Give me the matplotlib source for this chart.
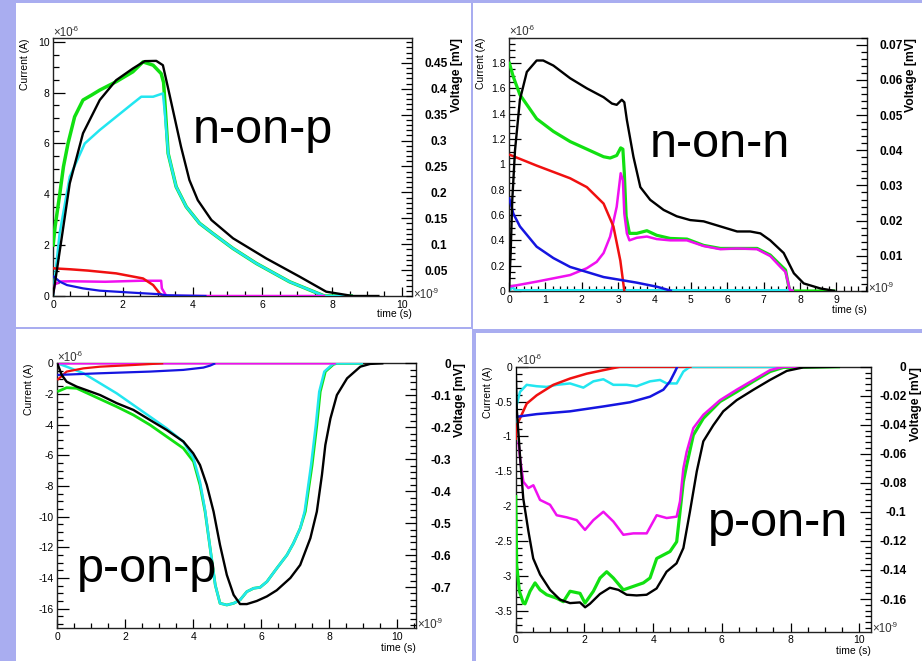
import matplotlib
matplotlib.use("Agg")
import matplotlib.pyplot as plt
from matplotlib.patches import Rectangle
from matplotlib.ticker import MultipleLocator

plt.rcParams['font.family'] = ['Liberation Sans', 'DejaVu Sans']
plt.rcParams['axes.unicode_minus'] = False

W, H = 922, 661
LAVENDER = '#a9adf0'
COLORS = {'green': '#11e011', 'cyan': '#22e6f0', 'magenta': '#f010f0',
          'red': '#f01010', 'blue': '#1515e0', 'black': '#000000'}

# ---------------- n-on-p ----------------
nop_green_t = [0, 0.06, 0.19, 0.3, 0.43, 0.62, 0.86, 1.1, 1.34, 1.81, 2.29, 2.58, 2.87, 3.1, 3.17,
               3.3, 3.53, 3.82, 4.2, 4.58, 5.16, 5.83, 6.78, 7.78, 8.6]
nop_green_i = [1.94, 2.73, 3.97, 5.09, 6.0, 7.05, 7.71, 7.9, 8.1, 8.43, 8.82, 9.21, 9.08, 8.75, 8.4,
               5.61, 4.3, 3.51, 2.86, 2.46, 1.87, 1.28, 0.56, 0.0, 0.0]
nop_cyan_t = [0, 0.19, 0.48, 0.91, 1.34, 1.81, 2.29, 2.53, 2.87, 3.15, 3.2, 3.3, 3.53, 3.82, 4.2,
              4.58, 5.16, 5.83, 6.78, 7.78, 8.6]
nop_cyan_i = [0.0, 2.46, 4.69, 6.0, 6.53, 7.05, 7.58, 7.84, 7.84, 7.97, 7.3, 5.61, 4.3, 3.51, 2.86,
              2.46, 1.87, 1.28, 0.56, 0.0, 0.0]
nop_magenta_t = [0, 0.05, 0.2, 0.5, 1.0, 1.5, 2.0, 2.5, 3.1, 3.12, 3.25, 7.8]
nop_magenta_i = [0.1, 0.45, 0.57, 0.58, 0.57, 0.56, 0.58, 0.6, 0.6, 0.3, 0.0, 0.0]
nop_red_t = [0, 0.5, 1.0, 1.81, 2.58, 2.87, 3.06, 3.15, 3.25]
nop_red_i = [1.09, 1.05, 1.0, 0.89, 0.69, 0.43, 0.1, 0.0, 0.0]
nop_blue_t = [0, 0.2, 0.4, 0.86, 1.34, 2.29, 3.06, 3.25, 4.4]
nop_blue_i = [0.79, 0.56, 0.43, 0.3, 0.21, 0.13, 0.07, 0.03, 0.0]
nop_black_t = [0, 0.24, 0.48, 0.86, 1.34, 1.81, 2.29, 2.63, 2.96, 3.15, 3.29, 3.48, 3.67, 3.91, 4.15,
               4.54, 5.16, 6.11, 7.07, 7.83, 8.59, 9.36]
nop_black_i = [0, 2.2, 4.43, 6.4, 7.71, 8.49, 8.95, 9.24, 9.25, 9.08, 8.23, 7.05, 5.87, 4.56, 3.77,
               2.99, 2.27, 1.48, 0.76, 0.17, 0.0, 0.0]

# ---------------- n-on-n ----------------
non_black_t = [0, 0.046, 0.09, 0.165, 0.3, 0.49, 0.76, 0.94, 1.22, 1.68, 2.14, 2.6, 2.83, 2.96, 3.1,
               3.17, 3.24, 3.42, 3.61, 3.88, 4.25, 4.61, 4.98, 5.35, 5.81, 6.27, 6.63, 6.91, 7.18,
               7.55, 7.83, 8.1, 8.56, 8.97]
non_black_i = [0, 0.3, 0.72, 1.11, 1.51, 1.73, 1.82, 1.82, 1.78, 1.68, 1.6, 1.53, 1.48, 1.47, 1.51,
               1.49, 1.35, 1.06, 0.82, 0.72, 0.64, 0.59, 0.56, 0.55, 0.51, 0.47, 0.47, 0.455, 0.4,
               0.3, 0.14, 0.06, 0.02, 0.0]
non_green_t = [0, 0.12, 0.3, 0.76, 1.22, 1.68, 2.14, 2.6, 2.78, 2.96, 3.07, 3.13, 3.17, 3.22, 3.31,
               3.51, 3.79, 4.06, 4.43, 4.89, 5.35, 5.81, 6.27, 6.82, 7.18, 7.46, 7.6, 7.69, 7.73, 8.97]
non_green_i = [1.81, 1.69, 1.55, 1.36, 1.26, 1.18, 1.12, 1.06, 1.05, 1.07, 1.13, 1.12, 0.93, 0.59,
               0.455, 0.455, 0.476, 0.44, 0.415, 0.41, 0.36, 0.336, 0.336, 0.336, 0.284, 0.205,
               0.166, 0.034, 0.0, 0.0]
non_magenta_t = [0, 0.76, 1.68, 2.14, 2.41, 2.6, 2.78, 2.96, 3.07, 3.13, 3.17, 3.24, 3.31, 3.51, 3.79,
                 4.06, 4.43, 4.89, 5.35, 5.81, 6.27, 6.82, 7.18, 7.46, 7.6, 7.72, 7.83]
non_magenta_i = [0.034, 0.074, 0.126, 0.18, 0.23, 0.3, 0.43, 0.665, 0.93, 0.875, 0.61, 0.455, 0.4,
                 0.42, 0.43, 0.41, 0.4, 0.4, 0.355, 0.33, 0.336, 0.33, 0.276, 0.19, 0.15, 0.008, 0.0]
non_red_t = [0, 0.76, 1.68, 2.14, 2.6, 2.87, 3.06, 3.17]
non_red_i = [1.078, 0.99, 0.89, 0.82, 0.69, 0.51, 0.24, 0.0]
non_blue_t = [0, 0.12, 0.3, 0.76, 1.22, 1.68, 2.6, 3.51, 4.06, 4.48]
non_blue_i = [0.74, 0.61, 0.51, 0.35, 0.26, 0.19, 0.11, 0.066, 0.034, 0.0]
non_cyan_t = [0, 0.08, 0.2, 7.8]
non_cyan_i = [0.0, 0.03, 0.005, 0.005]

# ---------------- p-on-p ----------------
pop_black_t = [0, 0.13, 0.275, 0.57, 1.26, 1.75, 2.24, 2.73, 3.22, 3.71, 4.0, 4.2, 4.4, 4.6, 4.79,
               4.99, 5.19, 5.38, 5.58, 5.87, 6.17, 6.46, 6.86, 7.15, 7.45, 7.64, 7.79, 7.89, 8.04,
               8.23, 8.53, 8.92, 9.21, 9.6]
pop_black_i = [0, -0.76, -1.2, -1.52, -2.07, -2.6, -3.04, -3.7, -4.35, -5.1, -5.87, -6.63, -7.93,
               -9.67, -11.85, -13.8, -15.1, -15.7, -15.7, -15.5, -15.2, -14.8, -14.0, -13.15, -11.4,
               -9.67, -7.28, -5.33, -3.6, -2.07, -0.98, -0.22, -0.04, 0.0]
pop_green_t = [0, 0.275, 0.57, 1.257, 1.749, 2.24, 2.73, 3.22, 3.71, 4.01, 4.2, 4.35, 4.5, 4.65, 4.79,
               4.99, 5.19, 5.38, 5.58, 5.78, 5.97, 6.17, 6.46, 6.76, 6.95, 7.15, 7.3, 7.5, 7.64, 7.74,
               7.89, 8.13, 8.23, 9.0]
pop_green_i = [-1.85, -1.59, -1.63, -2.33, -2.83, -3.37, -4.02, -4.78, -5.54, -6.41, -7.93, -9.67,
               -12.07, -14.46, -15.65, -15.76, -15.65, -15.43, -14.89, -14.67, -14.61, -14.24,
               -13.37, -12.5, -11.74, -10.76, -9.67, -6.63, -4.02, -1.85, -0.54, -0.07, 0.0, 0.0]
pop_cyan_t = [0, 0.275, 0.77, 1.257, 1.749, 2.24, 2.73, 3.22, 3.71, 4.01, 4.2, 4.35, 4.5, 4.65, 4.79,
              4.99, 5.19, 5.38, 5.58, 5.78, 5.97, 6.17, 6.46, 6.76, 6.95, 7.15, 7.28, 7.47, 7.61, 7.71,
              7.86, 8.1, 8.2, 9.0]
pop_cyan_i = [0.0, -0.22, -0.65, -1.3, -1.96, -2.72, -3.48, -4.24, -5.11, -6.2, -7.72, -9.57,
              -12.07, -14.46, -15.65, -15.76, -15.65, -15.43, -14.89, -14.67, -14.61, -14.24,
              -13.37, -12.5, -11.74, -10.76, -9.67, -6.63, -4.02, -1.85, -0.54, -0.07, 0.0, 0.0]
pop_blue_t = [0, 1.26, 2.73, 3.71, 4.3, 4.5, 4.65]
pop_blue_i = [-0.76, -0.65, -0.54, -0.43, -0.28, -0.15, 0.0]
pop_red_t = [0, 0.275, 0.77, 1.26, 2.24, 3.12]
pop_red_i = [-1.09, -0.54, -0.33, -0.22, -0.11, 0.0]
pop_magenta_t = [0, 0.05, 8.2]
pop_magenta_i = [-0.1, 0.0, 0.0]

# ---------------- p-on-n ----------------
pon_black_t = [0, 0.03, 0.13, 0.22, 0.37, 0.51, 0.71, 1.0, 1.29, 1.58, 1.87, 2.02, 2.16, 2.45, 2.74,
               2.99, 3.23, 3.52, 3.81, 4.1, 4.39, 4.68, 4.88, 5.07, 5.27, 5.46, 5.75, 6.04, 6.43,
               6.92, 7.4, 7.89, 8.37, 9.44]
pon_black_i = [0, -0.6, -1.31, -1.89, -2.36, -2.75, -2.98, -3.2, -3.34, -3.39, -3.38, -3.45, -3.4,
               -3.26, -3.17, -3.2, -3.27, -3.28, -3.27, -3.18, -2.94, -2.82, -2.6, -2.08, -1.5,
               -1.07, -0.84, -0.64, -0.48, -0.33, -0.19, -0.06, -0.01, 0.0]
pon_green_t = [0, 0.029, 0.107, 0.223, 0.272, 0.417, 0.563, 0.708, 0.902, 1.193, 1.387, 1.581, 1.872,
               2.017, 2.26, 2.454, 2.648, 2.842, 3.133, 3.424, 3.715, 3.909, 4.103, 4.297, 4.491,
               4.685, 4.782, 4.879, 4.976, 5.17, 5.461, 5.946, 6.431, 6.916, 7.401, 7.789, 9.438]
pon_green_i = [-1.84, -2.84, -3.22, -3.39, -3.4, -3.22, -3.1, -3.2, -3.27, -3.32, -3.37, -3.22,
               -3.25, -3.39, -3.22, -3.03, -2.94, -3.03, -3.2, -3.15, -3.1, -3.03, -2.75, -2.7,
               -2.65, -2.51, -2.08, -1.65, -1.41, -0.98, -0.74, -0.5, -0.36, -0.21, -0.07, -0.01, 0.0]
pon_magenta_t = [0.078, 0.126, 0.223, 0.369, 0.514, 0.708, 0.999, 1.193, 1.484, 1.775, 2.017, 2.26,
                 2.551, 2.842, 3.133, 3.424, 3.812, 4.103, 4.394, 4.685, 4.782, 4.879, 4.976, 5.17,
                 5.461, 5.946, 6.431, 6.916, 7.401, 7.789, 8.37]
pon_magenta_i = [-1.07, -1.31, -1.65, -1.74, -1.7, -1.91, -1.98, -2.13, -2.16, -2.2, -2.34, -2.2,
                 -2.08, -2.22, -2.41, -2.39, -2.39, -2.13, -2.17, -2.15, -1.93, -1.46, -1.22, -0.88,
                 -0.69, -0.48, -0.33, -0.19, -0.05, 0.0, 0.0]
pon_cyan_t = [0, 0.029, 0.126, 0.32, 0.611, 0.902, 1.193, 1.581, 1.969, 2.26, 2.551, 2.842, 3.23,
              3.521, 3.909, 4.2, 4.394, 4.685, 4.879, 5.073, 8.37]
pon_cyan_i = [-0.98, -0.55, -0.36, -0.26, -0.28, -0.29, -0.26, -0.24, -0.3, -0.21, -0.18, -0.26,
              -0.26, -0.28, -0.21, -0.19, -0.24, -0.24, -0.07, 0.0, 0.0]
pon_red_t = [0, 0.029, 0.126, 0.32, 0.611, 1.096, 1.581, 2.066, 2.551, 3.036, 5.121]
pon_red_i = [-1.05, -0.84, -0.74, -0.53, -0.41, -0.26, -0.17, -0.1, -0.05, 0.0, 0.0]
pon_blue_t = [0, 0.611, 1.581, 2.551, 3.327, 3.909, 4.297, 4.491, 4.636, 4.704]
pon_blue_i = [-0.72, -0.68, -0.64, -0.57, -0.51, -0.43, -0.33, -0.21, -0.07, 0.0]

# tick values per panel
nop_xticks = [0, 2, 4, 6, 8, 10]
nop_yticks = [0, 2, 4, 6, 8, 10]
nop_vticks = [0.05, 0.1, 0.15, 0.2, 0.25, 0.3, 0.35, 0.4, 0.45]
non_xticks = [0, 1, 2, 3, 4, 5, 6, 7, 8, 9]
non_yticks = [0, 0.2, 0.4, 0.6, 0.8, 1.0, 1.2, 1.4, 1.6, 1.8]
non_vticks = [0.01, 0.02, 0.03, 0.04, 0.05, 0.06, 0.07]
pop_xticks = [0, 2, 4, 6, 8, 10]
pop_yticks = [0, -2, -4, -6, -8, -10, -12, -14, -16]
pop_vticks = [0, -0.1, -0.2, -0.3, -0.4, -0.5, -0.6, -0.7]
pon_xticks = [0, 2, 4, 6, 8, 10]
pon_yticks = [0, -0.5, -1, -1.5, -2, -2.5, -3, -3.5]
pon_vticks = [0, -0.02, -0.04, -0.06, -0.08, -0.1, -0.12, -0.14, -0.16]


def fmt(v):
    return f"{round(v, 6):g}"


def fpos(x, y):
    return x / W, 1 - y / H


fig = plt.figure(figsize=(W / 100, H / 100), dpi=100)
fig.patch.set_facecolor(LAVENDER)

# white pad backgrounds
for (x0, y0, x1, y1) in [(16, 3, 471, 327), (473, 3, 922, 329),
                         (16, 329, 472, 661), (476, 333, 922, 661)]:
    fig.add_artist(Rectangle((x0 / W, 1 - y1 / H), (x1 - x0) / W, (y1 - y0) / H,
                             transform=fig.transFigure, facecolor='white',
                             edgecolor='none', zorder=0))


def panel(box, xlim, ylim, vlim, xticks, xminor, yticks, yminor, vticks, vminor, curves,
          label, label_pos, ylab_x, vlab_x, xlab_y, exp6_pos, exp9_pos):
    x0, y0, x1, y1 = box
    ax = fig.add_axes([x0 / W, 1 - y1 / H, (x1 - x0) / W, (y1 - y0) / H])
    ax.set_facecolor('white')
    for name, t, i, lw in curves:
        ax.plot(t, i, color=COLORS[name], lw=lw, solid_joinstyle='round',
                solid_capstyle='butt', zorder=3)
    ax.set_xlim(*xlim)
    ax.set_ylim(*ylim)
    ax.set_xticks(xticks)
    ax.set_xticklabels([fmt(v) for v in xticks])
    ax.set_yticks(yticks)
    ax.set_yticklabels([fmt(v) for v in yticks])
    ax.xaxis.set_minor_locator(MultipleLocator(xminor))
    ax.yaxis.set_minor_locator(MultipleLocator(yminor))
    ax.tick_params(axis='x', which='major', direction='in', length=6.5, width=0.9,
                   labelsize=7.5, pad=2.6, top=False)
    ax.tick_params(axis='x', which='minor', direction='in', length=3.3, width=0.9, top=False)
    ax.tick_params(axis='y', which='major', direction='in', length=8.5, width=0.9,
                   labelsize=7.5, pad=2.6, right=False)
    ax.tick_params(axis='y', which='minor', direction='in', length=4.3, width=0.9, right=False)
    for s in ax.spines.values():
        s.set_linewidth(1.0)
        s.set_color('#222222')

    # voltage scale on the right, labels right-aligned in a column
    ax2 = ax.twinx()
    ax2.set_ylim(*vlim)
    ax2.set_yticks(vticks)
    ax2.set_yticklabels([fmt(v) for v in vticks], fontweight='bold', fontsize=8.6, ha='right')
    ax2.yaxis.set_minor_locator(MultipleLocator(vminor))
    ax2.tick_params(axis='y', which='major', direction='in', length=7.7, width=0.9, pad=25.5)
    ax2.tick_params(axis='y', which='minor', direction='in', length=4.0, width=0.9)
    for s in ax2.spines.values():
        s.set_visible(False)

    # axis titles
    fx, fy = fpos(ylab_x, y0)
    fig.text(fx, fy, 'Current (A)', rotation=90, ha='center', va='top', fontsize=7.5)
    fx, fy = fpos(vlab_x, y0)
    fig.text(fx, fy, 'Voltage [mV]', rotation=90, ha='center', va='top', fontsize=8.8,
             fontweight='bold')
    fx, fy = fpos(x1, xlab_y)
    fig.text(fx, fy, 'time (s)', ha='right', va='top', fontsize=7.5)
    # exponents
    for (ex, ey), exp in [(exp6_pos, '-6'), (exp9_pos, '-9')]:
        fx, fy = fpos(ex, ey)
        fig.text(fx, fy, '\u00d710', ha='left', va='baseline', fontsize=8.3, color='#333333')
        fx2, fy2 = fpos(ex + 19, ey - 5)
        fig.text(fx2, fy2, exp, ha='left', va='baseline', fontsize=5.6, color='#333333')
    # big structure label
    fx, fy = fpos(*label_pos)
    fig.text(fx, fy, label, ha='left', va='baseline', fontsize=35, color='black')


panel((53, 38, 412, 296), (0, 10.29), (0, 10.15), (0, 0.498),
      nop_xticks, 0.5, nop_yticks, 0.5, nop_vticks, 0.01,
      [('green', nop_green_t, nop_green_i, 2.5), ('cyan', nop_cyan_t, nop_cyan_i, 1.8),
       ('magenta', nop_magenta_t, nop_magenta_i, 1.8), ('red', nop_red_t, nop_red_i, 1.8),
       ('blue', nop_blue_t, nop_blue_i, 1.6), ('black', nop_black_t, nop_black_i, 1.7)],
      'n-on-p', (193, 143), 25, 457, 309, (53, 36), (413, 298))

panel((509, 37.7, 867, 291), (0, 9.84), (0, 2.0), (0, 0.072),
      non_xticks, 0.2, non_yticks, 0.05, non_vticks, 0.002,
      [('green', non_green_t, non_green_i, 2.3), ('cyan', non_cyan_t, non_cyan_i, 2.0),
       ('magenta', non_magenta_t, non_magenta_i, 1.8), ('red', non_red_t, non_red_i, 1.8),
       ('blue', non_blue_t, non_blue_i, 1.8), ('black', non_black_t, non_black_i, 1.7)],
      'n-on-n', (650, 157), 481, 911, 305, (509, 35), (868, 292))

panel((57.3, 363.3, 415.7, 628.3), (0, 10.55), (-17.28, 0), (-0.829, 0),
      pop_xticks, 0.5, pop_yticks, 0.5, pop_vticks, 0.02,
      [('green', pop_green_t, pop_green_i, 2.0), ('cyan', pop_cyan_t, pop_cyan_i, 1.8),
       ('magenta', pop_magenta_t, pop_magenta_i, 1.8), ('red', pop_red_t, pop_red_i, 1.6),
       ('blue', pop_blue_t, pop_blue_i, 1.6), ('black', pop_black_t, pop_black_i, 1.7)],
      'p-on-p', (77, 582), 29, 460, 643, (57, 361), (417, 628))

panel((515.7, 366.7, 871, 631.7), (0, 10.34), (-3.8, 0), (-0.1825, 0),
      pon_xticks, 0.5, pon_yticks, 0.1, pon_vticks, 0.004,
      [('green', pon_green_t, pon_green_i, 2.3), ('cyan', pon_cyan_t, pon_cyan_i, 1.8),
       ('magenta', pon_magenta_t, pon_magenta_i, 1.8), ('red', pon_red_t, pon_red_i, 1.8),
       ('blue', pon_blue_t, pon_blue_i, 1.8), ('black', pon_black_t, pon_black_i, 1.7)],
      'p-on-n', (708, 536), 488, 916, 646, (516, 364), (872, 632))

fig.savefig('out.png', dpi=100, facecolor=fig.get_facecolor())
